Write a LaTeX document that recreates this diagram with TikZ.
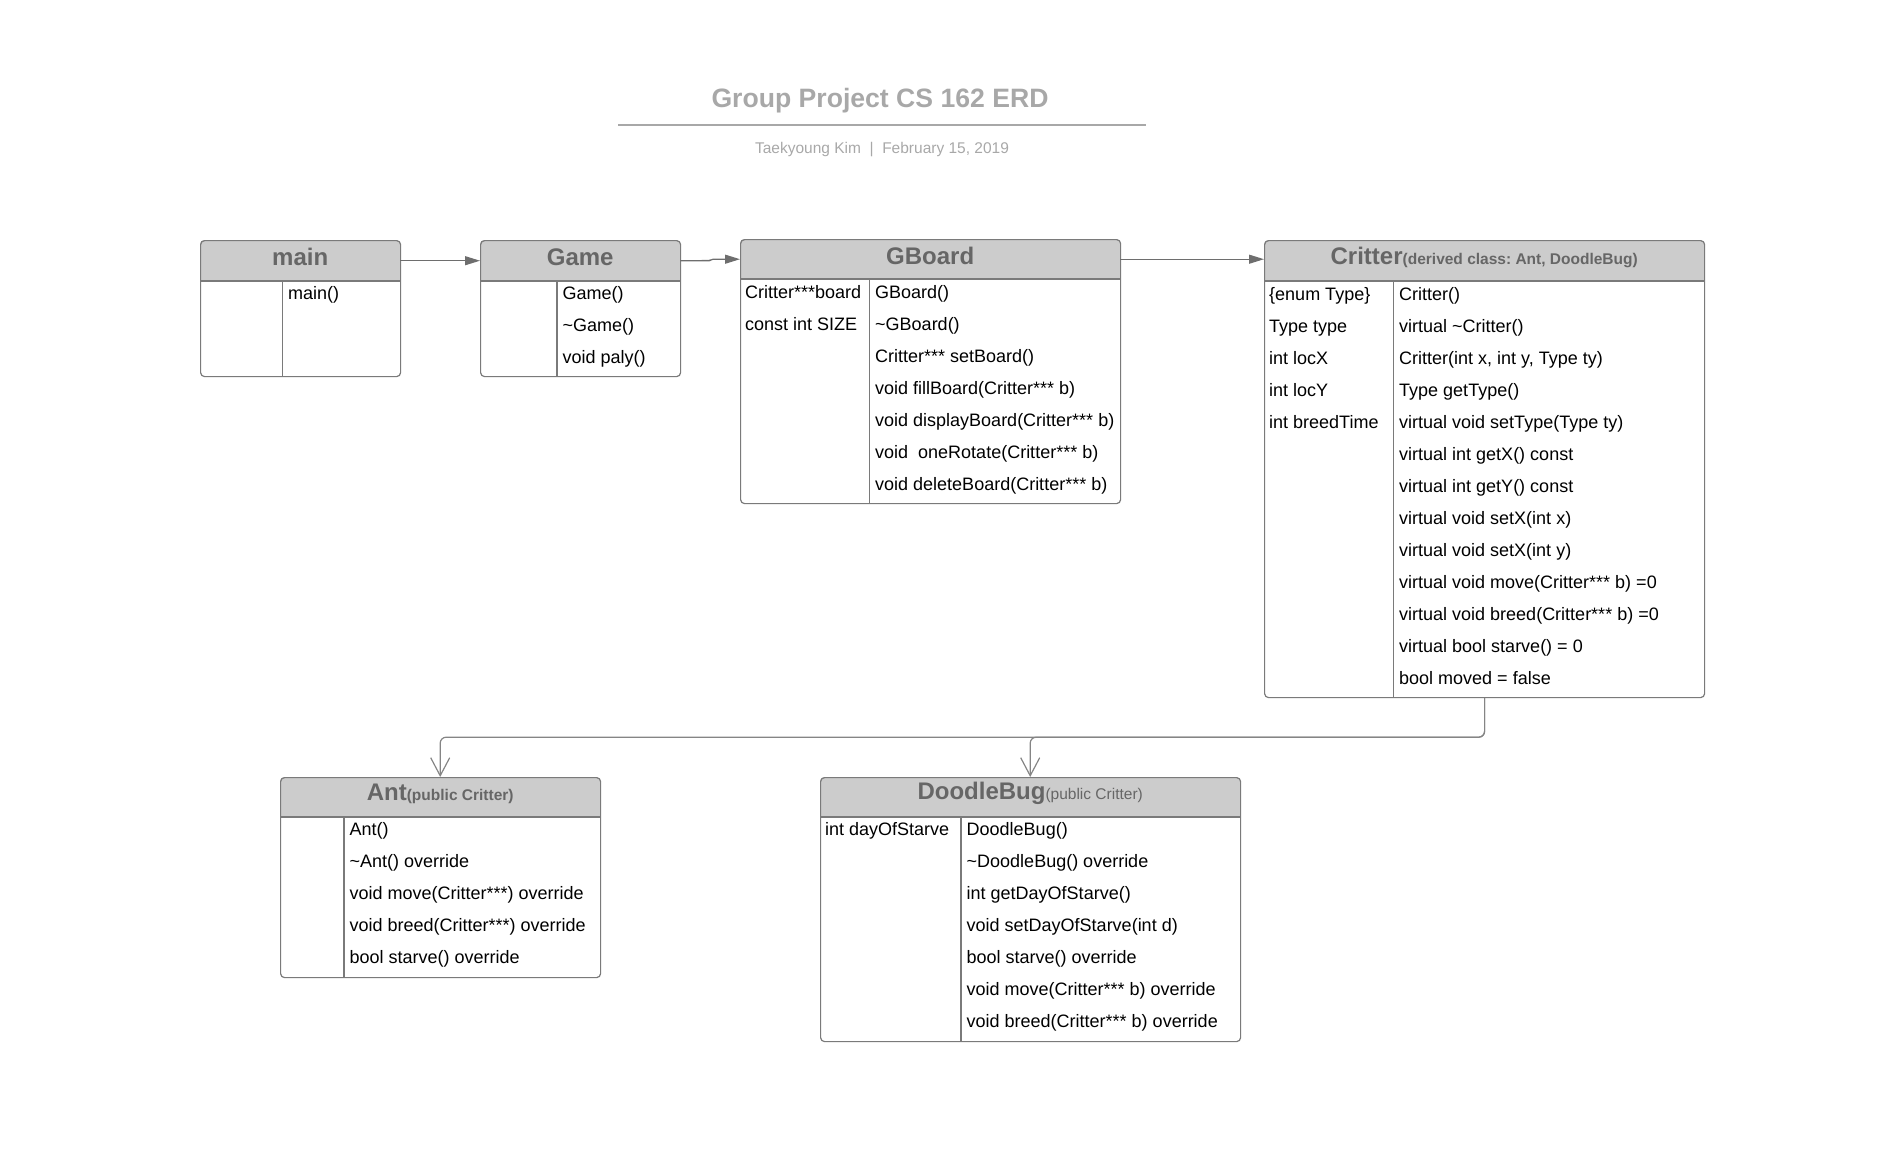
\documentclass[tikz,border=0pt]{standalone}
\usepackage{fontspec}
\setmainfont{Liberation Sans}
\usetikzlibrary{arrows.meta}
\definecolor{headfill}{HTML}{CCCCCC}
\definecolor{headtxt}{HTML}{666666}
\definecolor{framec}{HTML}{7A7A7A}
\definecolor{titlec}{HTML}{A8A8A8}
\definecolor{linkc}{HTML}{6E6E6E}
\definecolor{linkb}{HTML}{858585}

\tikzset{
  frameline/.style={draw=framec, line width=1.2pt},
  boxframe/.style={draw=framec, line width=1.2pt, rounded corners=4pt, inner sep=0pt, fill=none},
  headnode/.style={inner sep=0pt},
  headtext/.style={inner sep=0pt, text=headtxt, font=\bfseries\fontsize{24}{28}\selectfont},
  rowtext/.style={anchor=base west, inner sep=0pt, font=\fontsize{18}{21}\selectfont, text=black},
  toparrow/.style={draw=linkc, line width=1.2pt, -{Triangle[length=15pt,width=9pt]}, fill=linkc},
  inherit/.style={draw=linkb, line width=1.2pt, rounded corners=6pt, -{Straight Barb[length=18pt,width=19pt,line width=1.2pt]}},
}

% #1 name, #2 x1, #3 ytop, #4 x2, #5 yhead, #6 ybot, #7 xdiv, #8 title
\newcommand\classbox[8]{%
  \fill[white,rounded corners=4pt] (#2,#3) rectangle (#4,#6);
  \begin{scope}
    \clip[rounded corners=4pt] (#2,#3) rectangle (#4,#6);
    \fill[headfill] (#2,#3) rectangle (#4,#5);
  \end{scope}
  \draw[frameline] (#2,#5) -- (#4,#5);
  \draw[frameline] (#7,#5) -- (#7,#6);
  \node[boxframe, minimum width={(#4-#2)*1pt}, minimum height={(#6-#3)*1pt}, anchor=north west] (#1) at (#2,#3) {};
  \node[headnode, minimum width={(#4-#2)*1pt}, minimum height={(#5-#3)*1pt}, anchor=north west] (#1H) at (#2,#3) {};
  \node[headtext, yshift=3.5pt] (#1T) at (#1H.center) {#8};
}
% #1 prefix, #2 x, #3 first row centre y, #4 list
\newcommand\rowtexts[4]{%
  \foreach \txt [count=\rr] in {#4} {%
    \node[rowtext] (#1-\rr) at (#2, {#3+5.5+32*(\rr-1)}) {\txt};
  }%
}

\begin{document}
\frenchspacing
\begin{tikzpicture}[x=1pt,y=-1pt]
\useasboundingbox (0,0) rectangle (1894,1152);

% title block
\node[font=\bfseries\fontsize{26.6}{30}\selectfont, text=titlec, inner sep=0pt] (title) at (880,101) {Group Project CS 162 ERD};
\draw[draw=titlec, line width=2pt] (618,124.5) -- (1146,124.5);
\node[font=\fontsize{15.5}{18}\selectfont, text=titlec, inner sep=0pt] (subtitle) at (882,149.5) {Taekyoung Kim\ \ |\ \ February 15, 2019};

% classes
\classbox{main}{200}{240}{400}{281}{376}{282.5}{main}
\rowtexts{mainr}{288}{294}{main()}

\classbox{game}{480}{240}{680}{281}{376}{557}{Game}
\rowtexts{gamer}{562.5}{294}{Game(),\textasciitilde Game(),void paly()}

\classbox{gboard}{740}{239}{1120}{279}{503}{869.5}{GBoard}
\rowtexts{gboardl}{745}{292.5}{Critter***board,const int SIZE}
\rowtexts{gboardr}{875}{292.5}{GBoard(),\textasciitilde GBoard(),Critter*** setBoard(),void fillBoard(Critter*** b),void displayBoard(Critter*** b),void\ \ oneRotate(Critter*** b),void deleteBoard(Critter*** b)}

\classbox{critter}{1264}{240}{1704}{281}{697}{1393.5}{Critter{\fontsize{15.5}{18}\selectfont(derived class: Ant, DoodleBug)}}
\rowtexts{critterl}{1269}{295}{\{enum Type\},Type type,int locX,int locY,int breedTime}
\rowtexts{critterr}{1399}{295}{Critter(),virtual \textasciitilde Critter(),{Critter(int x, int y, Type ty)},Type getType(),virtual void setType(Type ty),virtual int getX() const,virtual int getY() const,virtual void setX(int x),virtual void setX(int y),virtual void move(Critter*** b) =0,virtual void breed(Critter*** b) =0,virtual bool starve() = 0,bool moved = false}

\classbox{ant}{280}{777}{600}{817}{977}{344}{Ant{\fontsize{15.5}{18}\selectfont(public Critter)}}
\rowtexts{antr}{349.5}{830}{Ant(),\textasciitilde Ant() override,void move(Critter***) override,void breed(Critter***) override,bool starve() override}

\classbox{doodle}{820}{777}{1240}{817}{1041}{961}{DoodleBug{\mdseries\fontsize{15.5}{18}\selectfont(public Critter)}}
\rowtexts{doodlel}{825}{830}{int dayOfStarve}
\rowtexts{doodler}{966.5}{830}{DoodleBug(),\textasciitilde DoodleBug() override,int getDayOfStarve(),void setDayOfStarve(int d),bool starve() override,void move(Critter*** b) override,void breed(Critter*** b) override}

% connectors
\draw[toparrow] (mainH.east) -- (gameH.west);
\draw[toparrow] (gameH.east) -- ++(29,0) -- ([xshift=-27pt]gboardH.west) -- (gboardH.west);
\draw[toparrow] (gboardH.east) -- (gboardH.east -| critterH.west);

\path (critter.south) ++(0,39) coordinate (split);
\draw[inherit] (critter.south) -- (split) -| (antH.north);
\draw[inherit] (critter.south) -- (split) -| (doodleH.north);
\end{tikzpicture}
\end{document}
